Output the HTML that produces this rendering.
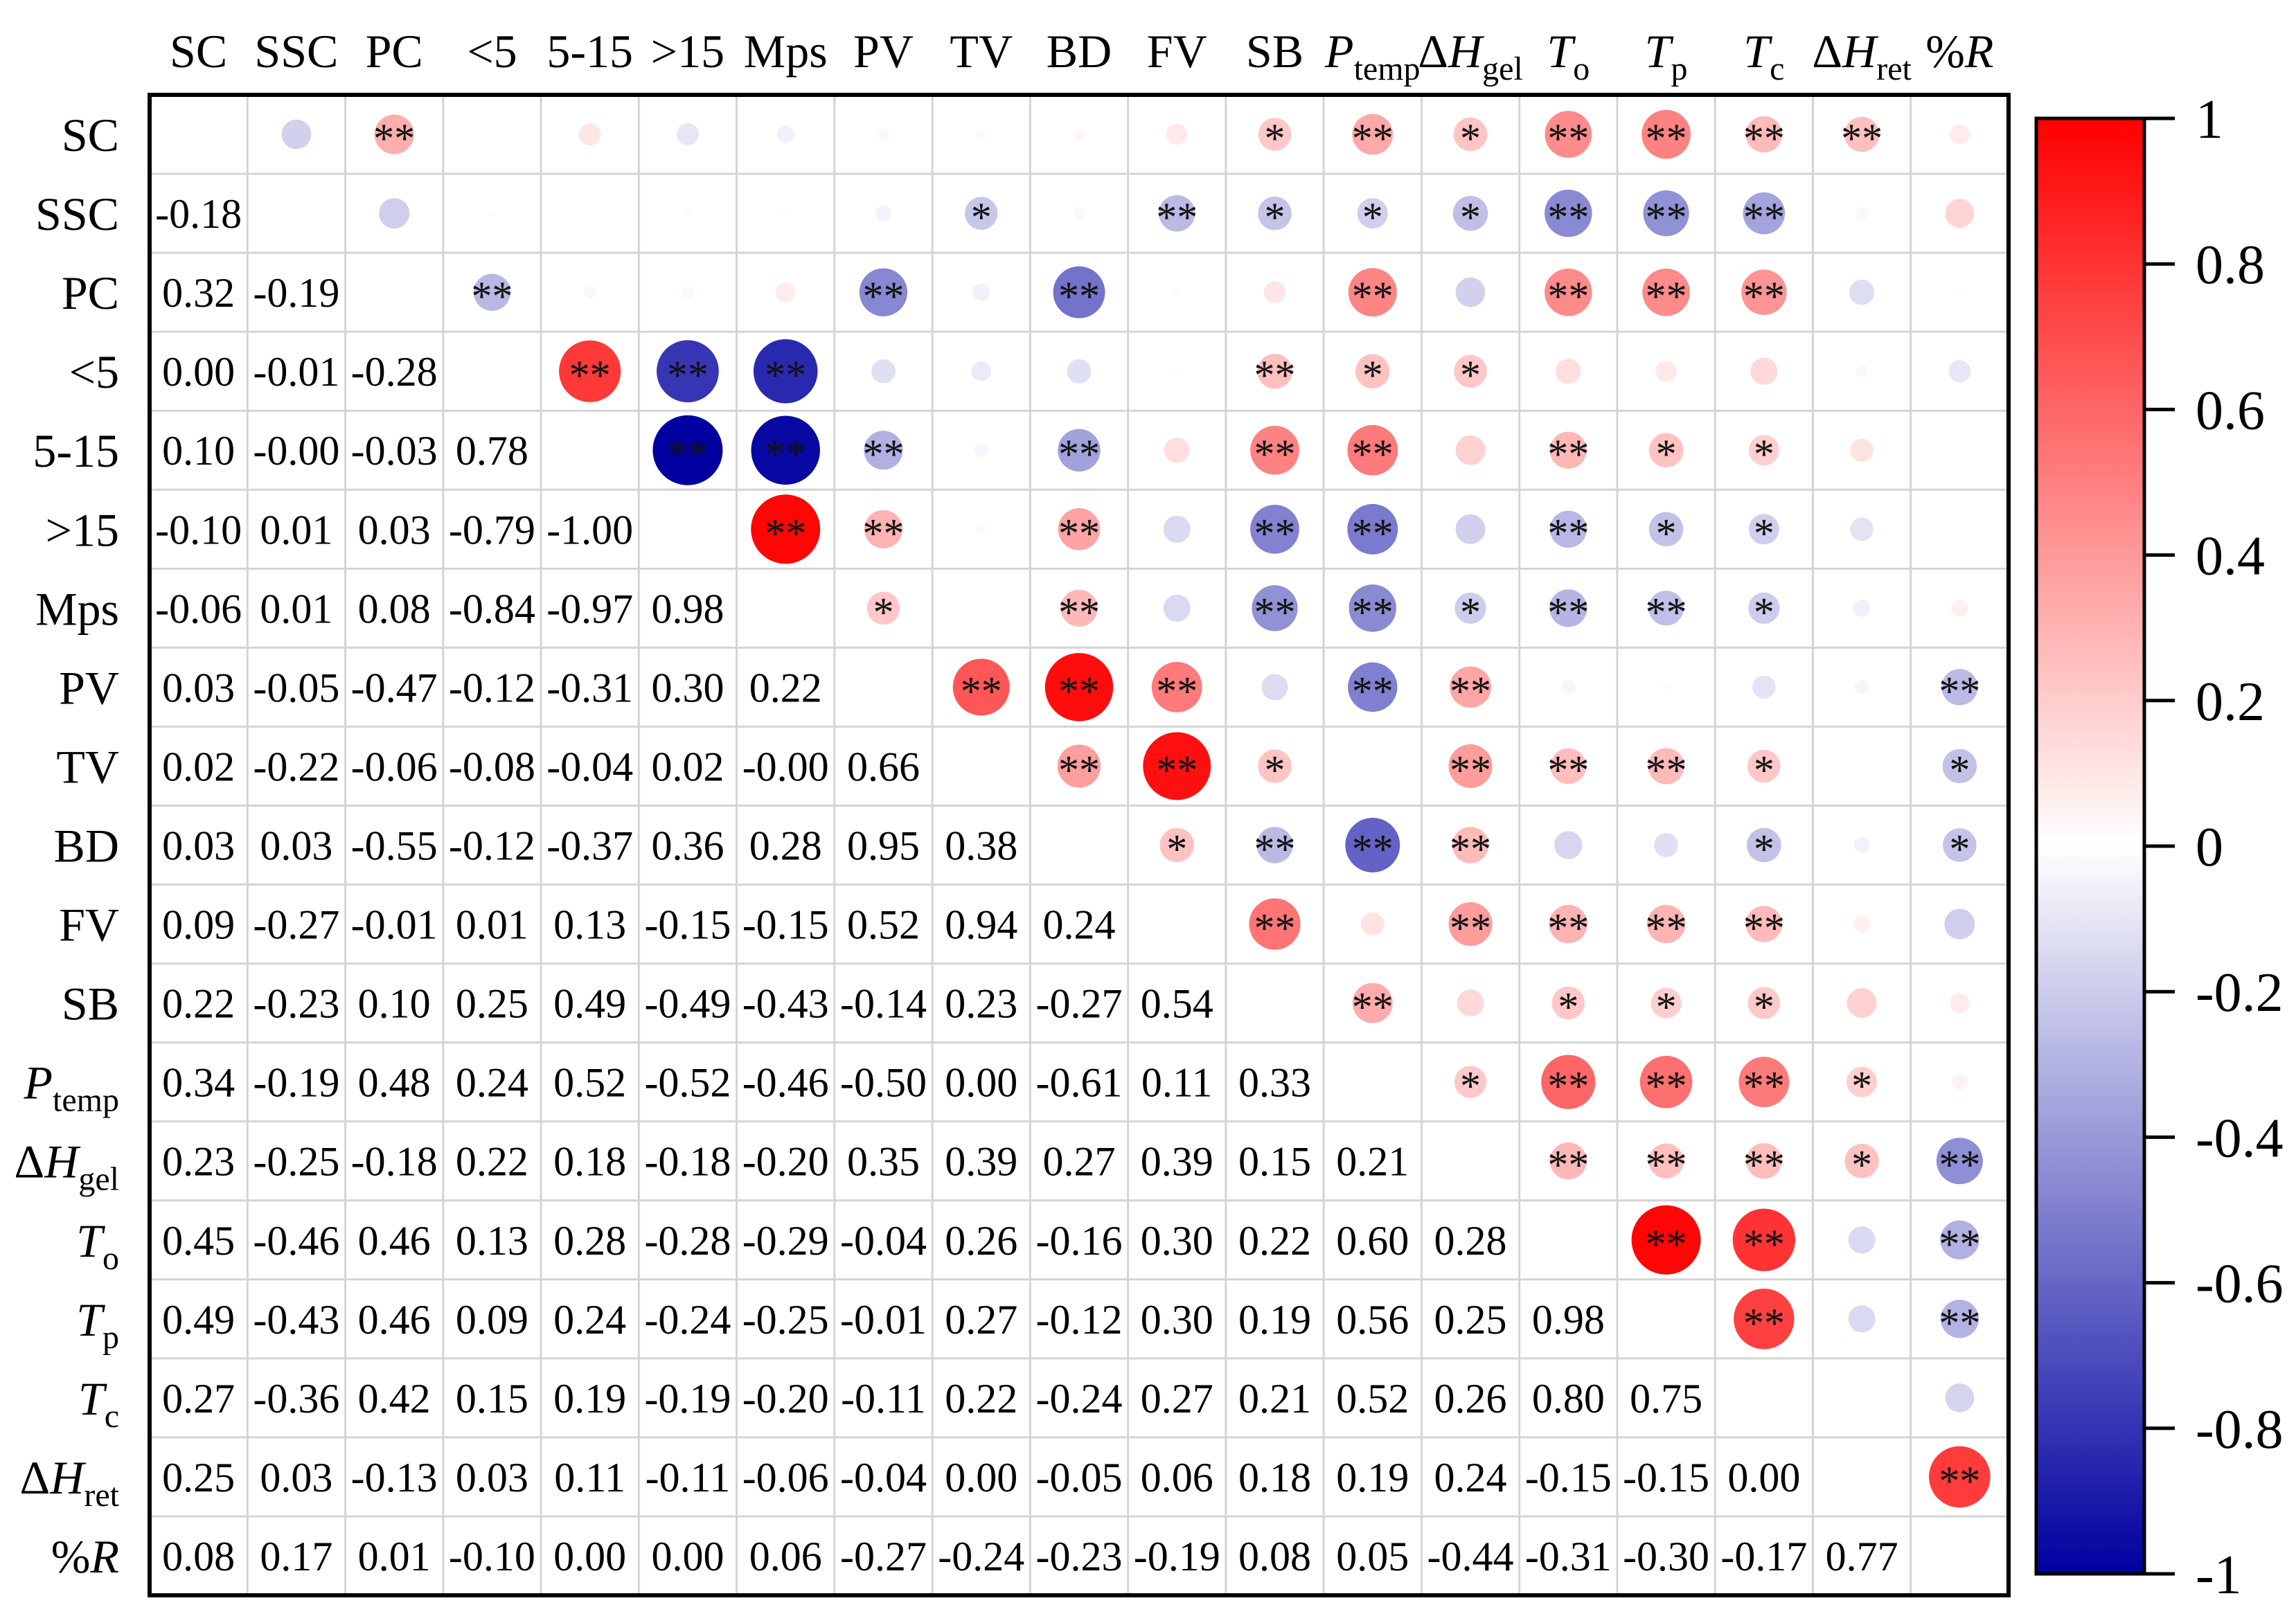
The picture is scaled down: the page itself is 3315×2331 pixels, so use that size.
<!DOCTYPE html>
<html><head><meta charset="utf-8"><style>
html,body{margin:0;padding:0;background:#fff;}
svg{display:block;font-family:"Liberation Serif","DejaVu Serif",serif;}
</style></head><body>
<svg id="chart" width="3315" height="2331" viewBox="0 0 3315 2331" xmlns="http://www.w3.org/2000/svg">
<defs>
<linearGradient id="cbgrad" x1="0" y1="1" x2="0" y2="0">
<stop offset="0" stop-color="rgb(0,0,160)"/>
<stop offset="0.5" stop-color="rgb(255,255,255)"/>
<stop offset="1" stop-color="rgb(255,0,0)"/>
</linearGradient>
</defs>
<g id="grid"></g>
<g id="marks"></g>
<g id="labels"></g>
<rect x="216" y="137" width="2684" height="2167" fill="none" stroke="#000" stroke-width="6"/>
<g id="cbar"></g>
</svg>
<script>
const variables = ["SC","SSC","PC","<5","5-15",">15","Mps","PV","TV","BD","FV","SB","Ptemp","dHgel","To","Tp","Tc","dHret","%R"];
const lowerValues = [
[],
[-0.18],
[0.32,-0.19],
[0.00,-0.01,-0.28],
[0.10,-0.00,-0.03,0.78],
[-0.10,0.01,0.03,-0.79,-1.00],
[-0.06,0.01,0.08,-0.84,-0.97,0.98],
[0.03,-0.05,-0.47,-0.12,-0.31,0.30,0.22],
[0.02,-0.22,-0.06,-0.08,-0.04,0.02,-0.00,0.66],
[0.03,0.03,-0.55,-0.12,-0.37,0.36,0.28,0.95,0.38],
[0.09,-0.27,-0.01,0.01,0.13,-0.15,-0.15,0.52,0.94,0.24],
[0.22,-0.23,0.10,0.25,0.49,-0.49,-0.43,-0.14,0.23,-0.27,0.54],
[0.34,-0.19,0.48,0.24,0.52,-0.52,-0.46,-0.50,0.00,-0.61,0.11,0.33],
[0.23,-0.25,-0.18,0.22,0.18,-0.18,-0.20,0.35,0.39,0.27,0.39,0.15,0.21],
[0.45,-0.46,0.46,0.13,0.28,-0.28,-0.29,-0.04,0.26,-0.16,0.30,0.22,0.60,0.28],
[0.49,-0.43,0.46,0.09,0.24,-0.24,-0.25,-0.01,0.27,-0.12,0.30,0.19,0.56,0.25,0.98],
[0.27,-0.36,0.42,0.15,0.19,-0.19,-0.20,-0.11,0.22,-0.24,0.27,0.21,0.52,0.26,0.80,0.75],
[0.25,0.03,-0.13,0.03,0.11,-0.11,-0.06,-0.04,0.00,-0.05,0.06,0.18,0.19,0.24,-0.15,-0.15,0.00],
[0.08,0.17,0.01,-0.10,0.00,0.00,0.06,-0.27,-0.24,-0.23,-0.19,0.08,0.05,-0.44,-0.31,-0.30,-0.17,0.77]
];
// significance per upper-triangle row i, for columns i+1..18
const significance = [
["","**","","","","","","","","","*","**","*","**","**","**","**",""],
["","","","","","","*","","**","*","*","*","**","**","**","",""],
["**","","","","**","","**","","","**","","**","**","**","",""],
["**","**","**","","","","","**","*","*","","","","",""],
["**","**","**","","**","","**","**","","**","*","*","",""],
["**","**","","**","","**","**","","**","*","*","",""],
["*","","**","","**","**","*","**","**","*","",""],
["**","**","**","","**","**","","","","","**"],
["**","**","*","","**","**","**","*","","*"],
["*","**","**","**","","","*","","*"],
["**","","**","**","**","**","",""],
["**","","*","*","*","",""],
["*","**","**","**","*",""],
["**","**","**","*","**"],
["**","**","","**"],
["**","","**"],
["",""],
["**"]
];
const cbTicks = [1,0.8,0.6,0.4,0.2,0,-0.2,-0.4,-0.6,-0.8,-1];
const cbTickLabels = ["1","0.8","0.6","0.4","0.2","0","-0.2","-0.4","-0.6","-0.8","-1"];

const NS="http://www.w3.org/2000/svg";
const L=216,T=137,W=2684,H=2167,N=variables.length;
const cw=W/N, ch=H/N;
const xC=j=>L+cw*(j+0.5);
const yC=i=>T+ch*(i+0.5);
const rad=v=>50.5*Math.sqrt(Math.abs(v));
function color(v){
  v=Math.max(-1,Math.min(1,v));
  if(v>=0){const c=Math.round(255*(1-v));return `rgb(255,${c},${c})`;}
  const t=-v;return `rgb(${Math.round(255*(1-t))},${Math.round(255*(1-t))},${Math.round(255-95*t)})`;
}
function el(tag,attrs,parent){const e=document.createElementNS(NS,tag);for(const k in attrs)e.setAttribute(k,attrs[k]);parent.appendChild(e);return e;}
const grid=document.getElementById('grid'),marks=document.getElementById('marks'),labels=document.getElementById('labels'),cbar=document.getElementById('cbar');
for(let k=1;k<N;k++){
  let g=el('line',{x1:L+cw*k,y1:T,x2:L+cw*k,y2:T+H,stroke:'#d4d4d4','stroke-width':3},grid);
  
  
  g=el('line',{x1:L,y1:T+ch*k,x2:L+W,y2:T+ch*k,stroke:'#d4d4d4','stroke-width':3},grid);
  
  
}
function labelContent(t,name){
  const map={"Ptemp":["P","temp"],"dHgel":["ΔH","gel"],"To":["T","o"],"Tp":["T","p"],"Tc":["T","c"],"dHret":["ΔH","ret"]};
  if(map[name]){
    const [m,s]=map[name];
    if(m.startsWith("Δ")){el('tspan',{},t).textContent="Δ";const it=el('tspan',{'font-style':'italic'},t);it.textContent="H";}
    else{const it=el('tspan',{'font-style':'italic'},t);it.textContent=m;}
    const sb=el('tspan',{dy:18,'font-size':48},t);sb.textContent=s;
  } else if(name==="%R"){
    el('tspan',{},t).textContent="%";const it=el('tspan',{'font-style':'italic'},t);it.textContent="R";
  } else t.textContent=name;
}
variables.forEach((v,j)=>{
  const t=el('text',{x:xC(j),y:97,'text-anchor':'middle','font-size':68},labels);
  
  
  labelContent(t,v);
  const r=el('text',{x:172,y:yC(j)+24,'text-anchor':'end','font-size':68},labels);
  
  
  labelContent(r,v);
});
for(let i=1;i<N;i++){
  for(let j=0;j<i;j++){
    const v=lowerValues[i][j];
    const t=el('text',{x:xC(j),y:yC(i)+21,'text-anchor':'middle','font-size':60},marks);
    
    
    t.textContent=(v<0||Object.is(v,-0)||(v===0&&String(lowerValues[i][j])==="-0"))?"-"+Math.abs(v).toFixed(2):v.toFixed(2);
    // circle in upper triangle at (row j, col i)
    const c=el('circle',{cx:xC(i),cy:yC(j),r:rad(v),fill:color(v)},marks);
    
    
    const s=significance[j][i-j-1];
    if(s){
      const st=el('text',{x:xC(i),y:yC(j)+26,'text-anchor':'middle','font-size':60,fill:'#111'},marks);
      
      
      st.textContent=s;
    }
  }
}
// fix -0.00 rendering for known negative zeros
marks.querySelectorAll('text').forEach(t=>{});
const cbL=2940,cbW=156,cbTop=171,cbBot=2273;
const yCb=v=>cbBot-(v+1)/2*(cbBot-cbTop);
const r=el('rect',{x:cbL,y:cbTop,width:cbW,height:cbBot-cbTop,fill:'url(#cbgrad)',stroke:'#000','stroke-width':5},cbar);


cbTicks.forEach((v,k)=>{
  const ln=el('line',{x1:cbL+cbW,y1:yCb(v),x2:3140,y2:yCb(v),stroke:'#000','stroke-width':5},cbar);
  
  
  const t=el('text',{x:3170,y:yCb(v)+28,'font-size':80},cbar);
  
  
  t.textContent=cbTickLabels[k];
});
</script>
</body></html>
